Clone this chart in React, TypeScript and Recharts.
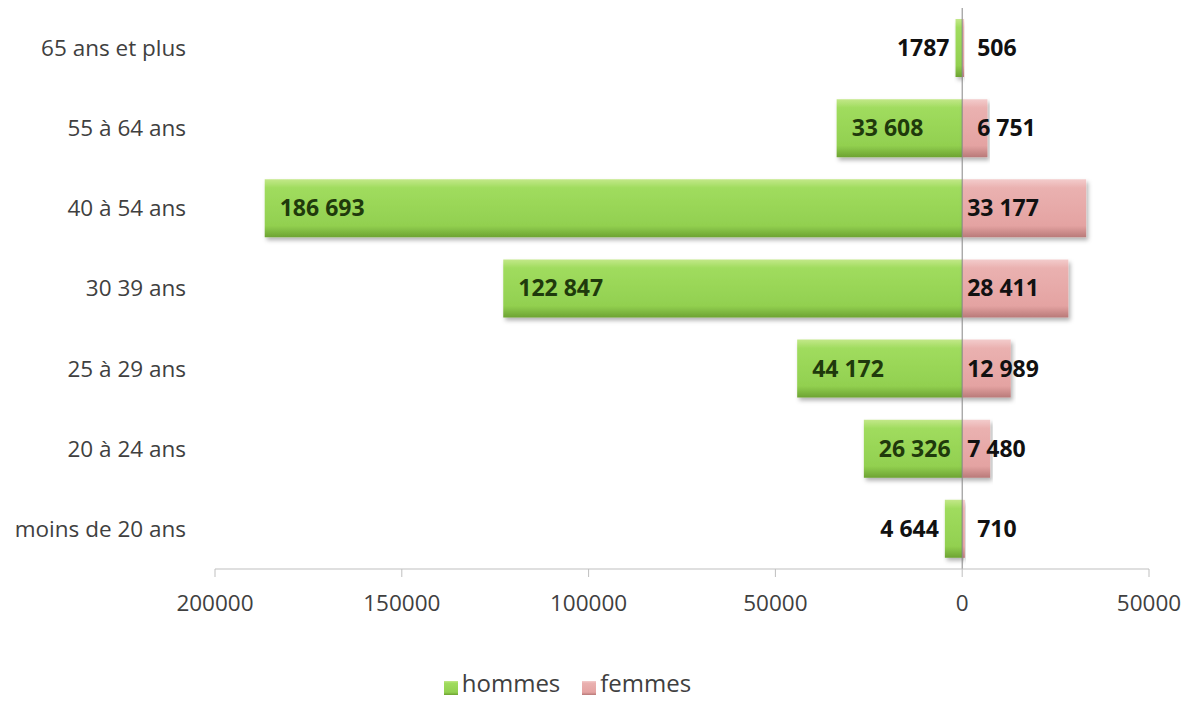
import { BarChart, Bar, XAxis, YAxis, Legend, ReferenceLine, LabelList, Rectangle } from 'recharts';

const categories = ['65 ans et plus', '55 à 64 ans', '40 à 54 ans', '30 39 ans', '25 à 29 ans', '20 à 24 ans', 'moins de 20 ans'];
const hommes = [1787, 33608, 186693, 122847, 44172, 26326, 4644];
const femmes = [506, 6751, 33177, 28411, 12989, 7480, 710];
const hommesLabels = ['1787', '33 608', '186 693', '122 847', '44 172', '26 326', '4 644'];
const femmesLabels = ['506', '6 751', '33 177', '28 411', '12 989', '7 480', '710'];
const xTicks = [-200000, -150000, -100000, -50000, 0, 50000];
const seriesOrder = ['hommes', 'femmes'];

const data = categories.map((c, i) => ({
  age: c,
  hommes: -hommes[i],
  femmes: femmes[i],
}));

const FONT = '"Open Sans", sans-serif';

const hommesLabel = (props: any) => {
  const { x, y, width, height, index } = props;
  const left = Math.min(x, x + width);
  const w = Math.abs(width);
  const inside = w > 80;
  return (
    <text
      x={inside ? left + 15 : left - 6}
      y={y + height / 2}
      dy="0.35em"
      textAnchor={inside ? 'start' : 'end'}
      fontFamily={FONT}
      fontWeight={700}
      fontSize={23}
      fill={inside ? '#1f3a0c' : '#111'}
    >
      {hommesLabels[index]}
    </text>
  );
};

const femmesLabel = (props: any) => {
  const { x, y, width, height, index } = props;
  const left = Math.min(x, x + width);
  const w = Math.abs(width);
  return (
    <text
      x={left + (w < 27 ? 15 : 5)}
      y={y + height / 2}
      dy="0.35em"
      textAnchor="start"
      fontFamily={FONT}
      fontWeight={700}
      fontSize={23}
      fill="#111"
    >
      {femmesLabels[index]}
    </text>
  );
};

export default function App() {
  return (
    <BarChart
      width={1186}
      height={688}
      data={data}
      layout="vertical"
      stackOffset="sign"
      margin={{ top: 0, right: 45, left: 0, bottom: 0 }}
    >
      <defs>
        <linearGradient id="gH" x1="0" y1="0" x2="0" y2="1">
          <stop offset="0%" stopColor="#c3e889" />
          <stop offset="15%" stopColor="#a0dc5e" />
          <stop offset="80%" stopColor="#92d050" />
          <stop offset="100%" stopColor="#6da332" />
        </linearGradient>
        <linearGradient id="gF" x1="0" y1="0" x2="0" y2="1">
          <stop offset="0%" stopColor="#f3cccc" />
          <stop offset="15%" stopColor="#eab1b0" />
          <stop offset="80%" stopColor="#e4a3a2" />
          <stop offset="100%" stopColor="#b97a79" />
        </linearGradient>
        <filter id="shadow" x="-10%" y="-20%" width="120%" height="160%">
          <feDropShadow dx="2" dy="3" stdDeviation="2" floodColor="#000" floodOpacity="0.3" />
        </filter>
      </defs>
      <XAxis
        type="number"
        domain={[-200000, 50000]}
        ticks={xTicks}
        tickFormatter={(v: number) => String(Math.abs(v))}
        stroke="#bfbfbf"
        tickSize={8}
        height={48}
        tick={{ fill: '#404040', fontSize: 22.5, fontFamily: FONT, dy: 16 }}
      />
      <YAxis
        type="category"
        dataKey="age"
        width={207}
        axisLine={false}
        tickLine={false}
        tick={{ fill: '#404040', fontSize: 22.5, fontFamily: FONT, dx: -21 }}
      />
      <ReferenceLine x={0} stroke="#868686" ifOverflow="extendDomain" />
      <Bar
        dataKey="hommes"
        name="hommes"
        stackId="a"
        barSize={58}
        fill="url(#gH)"
        isAnimationActive={false}
        shape={(p: any) => <Rectangle {...p} filter="url(#shadow)" />}
      >
        <LabelList dataKey="hommes" content={hommesLabel} />
      </Bar>
      <Bar
        dataKey="femmes"
        name="femmes"
        stackId="a"
        barSize={58}
        fill="url(#gF)"
        isAnimationActive={false}
        shape={(p: any) => <Rectangle {...p} filter="url(#shadow)" />}
      >
        <LabelList dataKey="femmes" content={femmesLabel} />
      </Bar>
      <Legend
        verticalAlign="bottom"
        align="center"
        iconType="square"
        iconSize={14}
        itemSorter={(item: any) => seriesOrder.indexOf(item.value)}
        formatter={(v: string) => (
          <span style={{ color: '#404040', fontSize: 24, fontFamily: FONT, marginRight: 12 }}>{v}</span>
        )}
        wrapperStyle={{ bottom: 0, lineHeight: '18px', paddingTop: 57 }}
      />
    </BarChart>
  );
}
